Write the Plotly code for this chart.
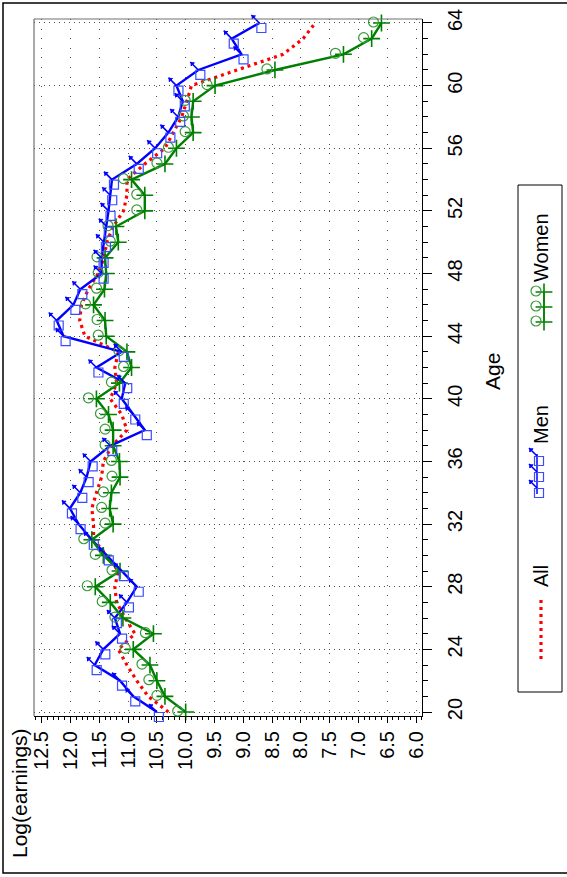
import plotly.graph_objects as go

W, H = 567, 877

# ---------------- data ----------------
ages = list(range(20, 65))
all_log = [10.30, 10.65, 10.85, 11.02, 11.17, 10.88, 11.05, 11.20, 11.23, 11.17,
           11.37, 11.60, 11.60, 11.63, 11.55, 11.46, 11.43, 11.28, 11.02, 11.11,
           11.31, 11.20, 11.23, 11.17, 11.75, 11.84, 11.81, 11.69, 11.52, 11.42,
           11.37, 11.26, 11.08, 11.02, 11.02, 10.71, 10.36, 10.21, 10.07, 9.98,
           9.90, 9.11, 8.31, 7.96, 7.75]
men_log = [10.50, 10.91, 11.14, 11.58, 11.43, 11.14, 11.23, 11.02, 10.85, 11.11,
           11.37, 11.63, 11.86, 12.01, 11.83, 11.72, 11.65, 11.31, 10.71, 10.91,
           11.11, 11.05, 11.55, 11.11, 12.12, 12.24, 11.95, 11.83, 11.46, 11.46,
           11.42, 11.37, 11.34, 11.31, 11.28, 10.85, 10.53, 10.30, 10.13, 10.05,
           10.16, 9.78, 9.03, 9.20, 8.72]
women_log = [10.00, 10.36, 10.50, 10.62, 10.91, 10.56, 11.09, 11.31, 11.57, 11.14,
             11.43, 11.63, 11.26, 11.32, 11.29, 11.14, 11.15, 11.26, 11.26, 11.34,
             11.55, 11.15, 10.94, 11.02, 11.38, 11.40, 11.60, 11.41, 11.38, 11.40,
             11.17, 11.21, 10.71, 10.71, 10.94, 10.36, 10.16, 9.87, 9.90, 9.87,
             9.49, 8.45, 7.26, 6.77, 6.60]

log_ticks = [12.5, 12.0, 11.5, 11.0, 10.5, 10.0, 9.5, 9.0, 8.5, 8.0, 7.5, 7.0, 6.5, 6.0]
log_tick_text = ["12.5", "12.0", "11.5", "11.0", "10.5", "10.0", "9.5", "9.0",
                 "8.5", "8.0", "7.5", "7.0", "6.5", "6.0"]
age_ticks = [20, 24, 28, 32, 36, 40, 44, 48, 52, 56, 60, 64]
series_names = ["All", "Men", "Women"]

# ---------------- layout geometry (pixels) ----------------
PL, PR, PT, PB = 34, 422, 19, 716
XR = [12.634, 5.896]
YR = [19.745, 64.255]

def fx(px):
    return px / W

def fy(py):
    return 1 - py / H

RED = "#ff0000"
BLUE = "#0000ff"
BLUE_L = "#3a4cff"
GREEN = "#008000"
GREEN_L = "#3a9a3a"
FONT = "Liberation Sans"

# marker styles
red_line = dict(color=RED, width=3.2, dash="3px,4px")
plus_mk = dict(symbol="cross-thin-open", size=12, color=GREEN,
               line=dict(color=GREEN, width=1.6))
circ_mk = dict(symbol="circle-open", size=10, color=GREEN_L,
               line=dict(color=GREEN_L, width=1.2))
sq_mk = dict(symbol="square-open", size=9, color=BLUE_L,
             line=dict(color=BLUE_L, width=1.2))
shaft_mk = dict(symbol="line-nw", size=8, color=BLUE,
                line=dict(color=BLUE, width=1.6))
head_mk = dict(symbol="triangle-nw", size=3.6, color=BLUE,
               line=dict(color=BLUE, width=1))

SHAFT_OFF = -4
HEAD_OFF = -6.1

fig = go.Figure()

def sc(x, y, ax, **kw):
    fig.add_trace(go.Scatter(x=x, y=y, xaxis="x" + ax, yaxis="y" + ax,
                             cliponaxis=False, showlegend=False, hoverinfo="skip", **kw))

# All
sc(all_log, ages, "", mode="lines", line=red_line)
# Men line
sc(men_log, ages, "", mode="lines", line=dict(color=BLUE, width=2.4))
# Women line + plus
sc(women_log, ages, "", mode="lines+markers", line=dict(color=GREEN, width=2.4),
   marker=plus_mk)
# Women circles (overlay axes shifted left)
sc(women_log, ages, "2", mode="markers", marker=circ_mk)
# Men squares (overlay axes shifted down-right)
sc(men_log, ages, "3", mode="markers", marker=sq_mk)
# Men arrow shafts and heads (overlay axes shifted up-left)
sc(men_log, ages, "5", mode="markers", marker=shaft_mk)
sc(men_log, ages, "6", mode="markers", marker=head_mk)

# ---------------- legend keys (pixel axes "4") ----------------
sc([541, 541], [600, 662], "4", mode="lines", line=red_line)

men_key_y = [456, 472, 488]
MKX = 537
sc([MKX, MKX], [454, 494], "4", mode="lines", line=dict(color=BLUE, width=1.5))
sc([MKX + 2] * 3, [v + 5 for v in men_key_y], "4", mode="markers", marker=sq_mk)
sc([MKX + SHAFT_OFF] * 3, [v + SHAFT_OFF for v in men_key_y], "4", mode="markers",
   marker=shaft_mk)
sc([MKX + HEAD_OFF] * 3, [v + HEAD_OFF for v in men_key_y], "4", mode="markers",
   marker=head_mk)

women_key_y = [292, 307, 322]
sc([544] * 3, women_key_y, "4", mode="lines+markers",
   line=dict(color=GREEN, width=1.5), marker=plus_mk)
sc([536] * 3, [v - 1 for v in women_key_y], "4", mode="markers", marker=circ_mk)

tickfont = dict(family=FONT, size=20, color="black")

def overlay(dx, dy, anchor):
    return (dict(domain=[fx(PL + dx), fx(PR + dx)], range=XR, anchor="y" + anchor,
                 visible=False),
            dict(domain=[fy(PB + dy), fy(PT + dy)], range=YR, anchor="x" + anchor,
                 visible=False))

x2, y2 = overlay(-8, -1, "2")
x3, y3 = overlay(2, 5, "3")
x5, y5 = overlay(SHAFT_OFF, SHAFT_OFF, "5")
x6, y6 = overlay(HEAD_OFF, HEAD_OFF, "6")

fig.update_layout(
    width=W, height=H,
    margin=dict(l=0, r=0, t=0, b=0),
    paper_bgcolor="white", plot_bgcolor="rgba(0,0,0,0)",
    showlegend=False,
    xaxis=dict(domain=[fx(PL), fx(PR)], range=XR, anchor="y",
               tickmode="array", tickvals=log_ticks, ticktext=log_tick_text,
               tickangle=-90, ticks="outside", ticklen=6, tickcolor="black",
               showline=True, linecolor="black", linewidth=1,
               showgrid=True, gridcolor="#505050", gridwidth=1, griddash="1px,8.6px",
               zeroline=False, tickfont=tickfont, automargin=False,
               minor=dict(dtick=0.1, tick0=6.0, ticks="outside", ticklen=3,
                          tickcolor="black", showgrid=False)),
    yaxis=dict(domain=[fy(PB), fy(PT)], range=YR, anchor="x", side="right",
               tickmode="array", tickvals=age_ticks,
               tickangle=-90, ticks="outside", ticklen=9, tickcolor="black",
               showline=True, linecolor="black", linewidth=1,
               showgrid=True, gridcolor="#505050", gridwidth=1, griddash="1px,4px",
               zeroline=False, tickfont=tickfont, automargin=False,
               ticklabelstandoff=6,
               minor=dict(dtick=1, tick0=20, ticks="outside", ticklen=5,
                          tickcolor="black", showgrid=False)),
    xaxis2=x2, yaxis2=y2, xaxis3=x3, yaxis3=y3, xaxis5=x5, yaxis5=y5,
    xaxis6=x6, yaxis6=y6,
    xaxis4=dict(domain=[0, 1], range=[0, W], anchor="y4", visible=False),
    yaxis4=dict(domain=[0, 1], range=[H, 0], anchor="x4", visible=False),
)

shapes = [
    dict(type="rect", xref="paper", yref="paper", x0=fx(3), x1=fx(575),
         y0=fy(873), y1=fy(3), line=dict(color="black", width=1.5)),
    dict(type="line", xref="paper", yref="paper", x0=fx(PL), x1=fx(PR),
         y0=fy(PT), y1=fy(PT), line=dict(color="#707070", width=1.2)),
    dict(type="line", xref="paper", yref="paper", x0=fx(PL), x1=fx(PL),
         y0=fy(PT), y1=fy(PB), line=dict(color="#707070", width=1.2)),
    dict(type="rect", xref="paper", yref="paper", x0=fx(518), x1=fx(562),
         y0=fy(692), y1=fy(185), line=dict(color="black", width=1)),
]
fig.update_layout(shapes=shapes)

def label(text, px, py, size):
    return dict(text=text, x=fx(px), y=fy(py), xref="paper", yref="paper",
                xanchor="center", yanchor="middle", showarrow=False, textangle=-90,
                font=dict(family=FONT, size=size, color="black"))

annotations = [
    label("Log(earnings)", 19, 793, 21),
    label("Age", 492, 372, 21),
    label(series_names[2], 541, 248, 20),
    label(series_names[1], 541, 425, 20),
    label(series_names[0], 541, 576, 20),
]
fig.update_layout(annotations=annotations)

fig.write_html("out.html")
